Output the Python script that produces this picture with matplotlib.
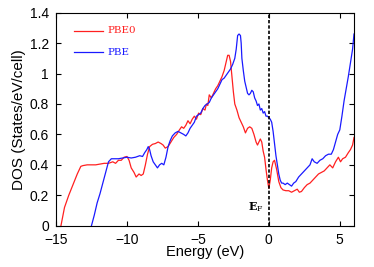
import matplotlib
matplotlib.use('Agg')
import matplotlib.pyplot as plt

# PBE0 density of states
pbe0_e = [-14.65, -14.4, -14.1, -13.8, -13.5, -13.25, -13.1, -12.8, -12.5, -12.2, -11.9,
          -11.6, -11.3, -11.0, -10.8, -10.6, -10.4, -10.2, -10.0, -9.85, -9.7, -9.5,
          -9.35, -9.15, -9.0, -8.85, -8.7, -8.55, -8.4, -8.2, -8.0, -7.8, -7.6, -7.45,
          -7.3, -7.1, -6.9, -6.7, -6.5, -6.3, -6.15, -6.0, -5.85, -5.7, -5.55, -5.4,
          -5.25, -5.1, -4.95, -4.8, -4.65, -4.5, -4.4, -4.3, -4.2, -4.05, -3.9, -3.75,
          -3.6, -3.45, -3.3, -3.15, -3.0, -2.9, -2.8, -2.7, -2.6, -2.5, -2.4, -2.25,
          -2.1, -1.95, -1.8, -1.65, -1.5, -1.35, -1.2, -1.05, -0.9, -0.8, -0.7, -0.6,
          -0.5, -0.4, -0.3, -0.2, -0.1, 0.0, 0.1, 0.2, 0.3, 0.4, 0.55, 0.7, 0.85,
          1.0, 1.2, 1.4, 1.6, 1.8, 2.0, 2.15, 2.3, 2.5, 2.7, 2.9, 3.1, 3.3, 3.5, 3.7,
          3.9, 4.1, 4.3, 4.5, 4.7, 4.9, 5.05, 5.2, 5.4, 5.6, 5.75, 5.9, 6.0]
pbe0_dos = [0.0, 0.12, 0.2, 0.27, 0.34, 0.39, 0.395, 0.4, 0.4, 0.4, 0.405,
            0.41, 0.41, 0.42, 0.41, 0.43, 0.43, 0.45, 0.455, 0.43, 0.38, 0.35,
            0.32, 0.34, 0.33, 0.34, 0.4, 0.47, 0.52, 0.535, 0.54, 0.55, 0.54, 0.53,
            0.51, 0.52, 0.55, 0.58, 0.6, 0.63, 0.65, 0.64, 0.66, 0.69, 0.67, 0.7,
            0.72, 0.7, 0.74, 0.73, 0.77, 0.76, 0.8, 0.79, 0.86, 0.84, 0.87, 0.9,
            0.92, 0.95, 0.98, 1.02, 1.08, 1.12, 1.12, 1.08, 0.98, 0.88, 0.8, 0.76,
            0.71, 0.68, 0.65, 0.61, 0.64, 0.65, 0.64, 0.6, 0.55, 0.53, 0.55, 0.57,
            0.55, 0.49, 0.45, 0.37, 0.3, 0.245, 0.3, 0.38, 0.42, 0.43, 0.37, 0.29, 0.25,
            0.235, 0.23, 0.23, 0.22, 0.23, 0.24, 0.22, 0.225, 0.25, 0.27, 0.28, 0.3, 0.32, 0.34, 0.35,
            0.36, 0.38, 0.4, 0.38, 0.42, 0.45, 0.42, 0.44, 0.45, 0.48, 0.5, 0.53, 0.58]

# PBE density of states
pbe_e = [-12.5, -12.3, -12.1, -11.9, -11.7, -11.5, -11.3, -11.1, -10.9, -10.6, -10.3,
         -10.0, -9.7, -9.4, -9.1, -8.9, -8.75, -8.6, -8.5, -8.4, -8.3, -8.15, -8.0,
         -7.85, -7.7, -7.55, -7.4, -7.25, -7.1, -6.95, -6.8, -6.6, -6.4, -6.2, -6.0,
         -5.85, -5.7, -5.55, -5.4, -5.25, -5.1, -4.95, -4.8, -4.65, -4.5, -4.35,
         -4.2, -4.05, -3.9, -3.75, -3.6, -3.45, -3.3, -3.15, -3.0, -2.85, -2.7,
         -2.55, -2.4, -2.3, -2.2, -2.1, -2.0, -1.95, -1.9, -1.8, -1.7, -1.6, -1.5,
         -1.4, -1.3, -1.2, -1.1, -1.0, -0.9, -0.8, -0.7, -0.6, -0.5, -0.4, -0.3,
         -0.2, -0.1, 0.0, 0.1, 0.2, 0.3, 0.4, 0.5, 0.6, 0.7, 0.8, 0.9, 1.0, 1.15,
         1.3, 1.45, 1.6, 1.75, 1.9, 2.1, 2.3, 2.5, 2.7, 2.9, 3.05, 3.2, 3.4, 3.6,
         3.8, 4.0, 4.2, 4.4, 4.55, 4.7, 4.85, 5.0, 5.15, 5.3, 5.45, 5.6, 5.75, 5.9, 6.0]
pbe_dos = [0.0, 0.07, 0.15, 0.21, 0.28, 0.35, 0.42, 0.44, 0.44, 0.44, 0.445,
           0.45, 0.445, 0.45, 0.46, 0.455, 0.48, 0.5, 0.52, 0.5, 0.46, 0.42, 0.4,
           0.38, 0.4, 0.41, 0.4, 0.45, 0.52, 0.56, 0.59, 0.61, 0.62, 0.61, 0.6,
           0.59, 0.61, 0.64, 0.66, 0.68, 0.72, 0.73, 0.74, 0.77, 0.79, 0.8,
           0.81, 0.84, 0.86, 0.88, 0.9, 0.93, 0.96, 0.97, 0.99, 1.01, 1.03,
           1.06, 1.1, 1.16, 1.25, 1.26, 1.25, 1.2, 1.1, 1.02, 0.95, 0.91, 0.87,
           0.86, 0.87, 0.89, 0.88, 0.84, 0.82, 0.79, 0.8, 0.76, 0.77, 0.74, 0.75,
           0.72, 0.72, 0.71, 0.7, 0.68, 0.62, 0.54, 0.46, 0.4, 0.34, 0.3, 0.28, 0.28, 0.27,
           0.28, 0.27, 0.26, 0.28, 0.29, 0.32, 0.34, 0.36, 0.38, 0.4, 0.44, 0.42, 0.41, 0.43,
           0.44, 0.46, 0.47, 0.47, 0.5, 0.55, 0.6, 0.63, 0.72, 0.82, 0.9, 0.98, 1.07, 1.16, 1.26]

x_ticks = [-15, -10, -5, 0, 5]
y_ticks = [0, 0.2, 0.4, 0.6, 0.8, 1.0, 1.2, 1.4]
y_labels = ['0', '0.2', '0.4', '0.6', '0.8', '1', '1.2', '1.4']

plt.rcParams['font.family'] = ['Liberation Sans', 'DejaVu Sans']
plt.rcParams['mathtext.fontset'] = 'dejavuserif'

red = '#ff2020'
blue = '#1a1aff'
key_font = 'DejaVu Serif'

fig = plt.figure(figsize=(3.74, 2.67), dpi=100)
ax = fig.add_axes([0.1497, 0.1547, 0.7968, 0.7977])

ax.plot(pbe0_e, pbe0_dos, color=red, lw=0.9)
ax.plot(pbe_e, pbe_dos, color=blue, lw=0.9)
ax.axvline(0, color='black', lw=1.2, ls=(0, (2, 1.2)))

ax.set_xlim(-15, 6)
ax.set_ylim(0, 1.4)
ax.set_xticks(x_ticks)
ax.set_yticks(y_ticks)
ax.set_yticklabels(y_labels)
ax.tick_params(direction='in', top=True, right=True, length=3.5, width=0.8, labelsize=10)
ax.tick_params(axis='x', pad=5)
ax.tick_params(axis='y', pad=5)
for s in ax.spines.values():
    s.set_linewidth(0.8)

ax.set_xlabel('Energy (eV)', fontsize=10.5, labelpad=-1)
ax.set_ylabel('DOS (States/eV/cell)', fontsize=11, labelpad=3)

# key drawn by hand, gnuplot style
ax.plot([-13.73, -11.69], [1.28, 1.28], color=red, lw=0.9)
ax.plot([-13.73, -11.69], [1.14, 1.14], color=blue, lw=0.9)
ax.text(-11.35, 1.28, 'PBE0', color=red, fontsize=7.5, family=key_font,
        va='center')
ax.text(-11.35, 1.14, 'PBE', color=blue, fontsize=7.5, family=key_font,
        va='center')

ax.text(-0.4, 0.10, r'E$_{\mathrm{F}}$', fontsize=8, family=key_font,
        fontweight='bold', ha='right', va='baseline')

fig.savefig('out.png', dpi=100)
